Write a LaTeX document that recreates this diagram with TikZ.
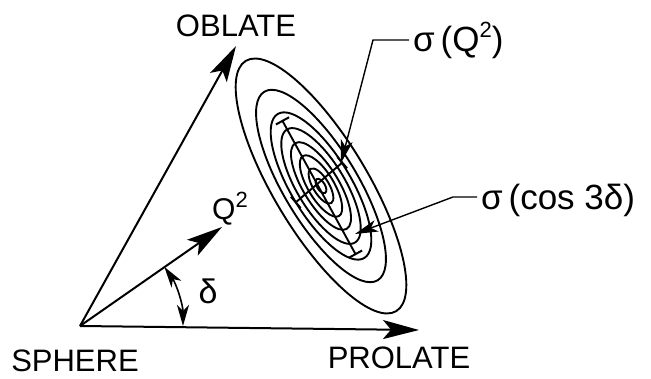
\documentclass[tikz,border=0pt]{standalone}
\usepackage{fontspec}
\setmainfont{Liberation Sans}
\usetikzlibrary{arrows.meta,calc}
\tikzset{
  axisline/.style={line width=2pt,-{Stealth[length=36pt,width=19pt,inset=8pt]}},
  contour/.style={line width=1.9pt},
  errbar/.style={line width=1.9pt,{Bar[width=15pt,line width=2pt]}-{Bar[width=15pt,line width=2pt]}},
  leader/.style={line width=1.4pt,-{Stealth[length=23pt,width=12pt,inset=6pt]}},
  arcarrow/.style={line width=1.6pt,{Stealth[length=21pt,width=12pt,inset=6pt]}-{Stealth[length=21pt,width=12pt,inset=6pt]}},
  caps/.style={font=\fontsize{31}{31}\selectfont,inner sep=0pt},
  glabel/.style={font=\fontsize{35}{35}\selectfont,inner sep=0pt},
}
\newcommand{\supnum}[1]{\raisebox{0.42em}{\fontsize{22}{22}\selectfont #1}}
\begin{document}
\begin{tikzpicture}[x=1pt,y=-1pt]
\useasboundingbox (0,0) rectangle (651,379);
\fill[white] (0,0) rectangle (651,379);
% axes
\coordinate (S) at (80,326);
\coordinate (Otip) at (236,46);
\coordinate (Ptip) at (419,330);
\coordinate (Qtip) at (222,227);
\draw[axisline] (S) -- (Otip);
\draw[axisline] (S) -- (Ptip);
\draw[axisline] (S) -- (Qtip);
% delta arc
\draw[arcarrow] ($(S)+(0:103)$) arc[start angle=0,end angle=-35,radius=103];
% ellipses
\coordinate (C) at (321,186);
\begin{scope}[rotate around={-59:(C)}]
\draw[contour] (C) ellipse[x radius=146,y radius=47];
\draw[contour] (C) ellipse[x radius=110,y radius=37];
\draw[contour] (C) ellipse[x radius=84,y radius=30];
\draw[contour] (C) ellipse[x radius=66,y radius=24];
\draw[contour] (C) ellipse[x radius=50,y radius=18];
\draw[contour] (C) ellipse[x radius=35,y radius=13];
\draw[contour] (C) ellipse[x radius=20,y radius=8];
\draw[contour] (C) ellipse[x radius=8,y radius=4];
\end{scope}
% error bars
\coordinate (Mtop) at (282,120);
\coordinate (Mbot) at (356,255);
\coordinate (Pl) at (295,203);
\coordinate (Pr) at (343,162);
\draw[errbar] (Mtop) -- (Mbot);
\draw[errbar] (Pl) -- (Pr);
% labels
\node[caps] (oblate) at (236,26) {OBLATE};
\node[caps] (sphere) at (75,361) {SPHERE};
\node[caps] (prolate) at (399,358) {PROLATE};
\node[font=\fontsize{30}{30}\selectfont,inner sep=0pt,anchor=base west] (qlab) at (212,220) {Q\supnum{2}};
\node[font=\fontsize{34}{34}\selectfont,inner sep=0pt] (dlab) at (208,291) {δ};
\node[glabel,anchor=base west] (sq) at (413,52) {σ\,(Q\supnum{2})};
\node[glabel,anchor=base west] (sc) at (481,210) {σ\,(cos 3δ)};
% leaders
\coordinate (k1) at (373,40);
\coordinate (k2) at (453,197);
\coordinate (t1) at (341,163);
\coordinate (t2) at (355,234);
\draw[leader] (sq.west |- k1) ++(-4,0) -- (k1) -- (t1);
\draw[leader] (sc.west |- k2) ++(-4,0) -- (k2) -- (t2);
\end{tikzpicture}
\end{document}
